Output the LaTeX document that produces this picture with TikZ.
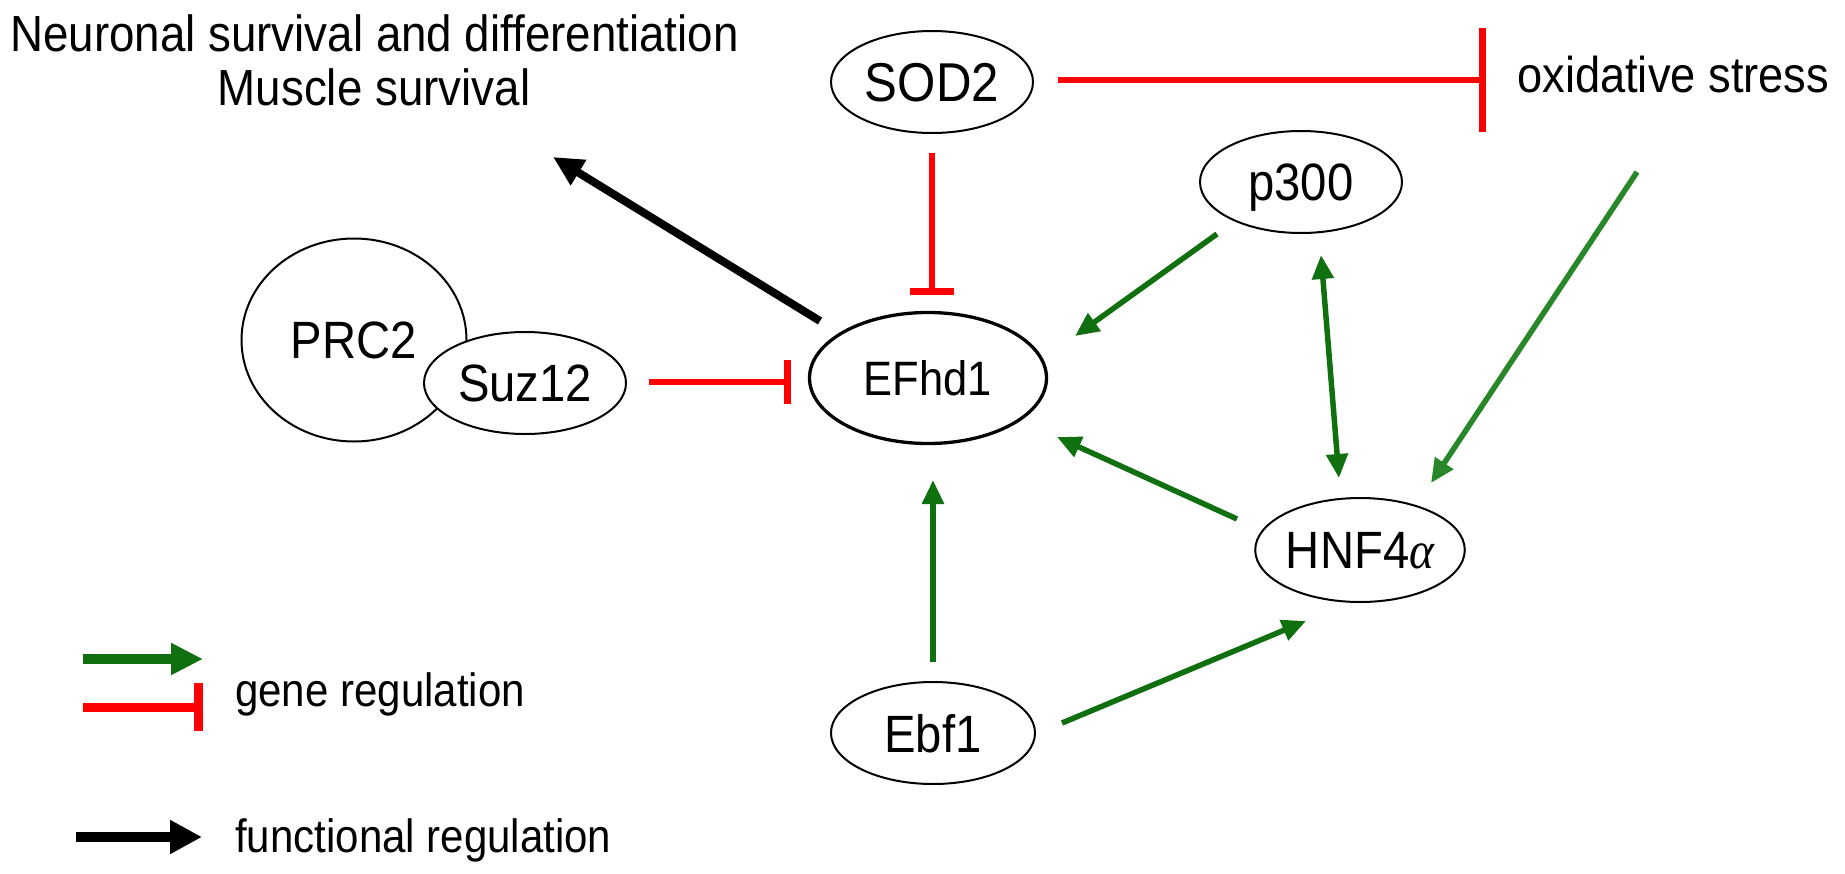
\documentclass[tikz,border=0pt]{standalone}
\usepackage{fontspec}
\setmainfont{Liberation Sans}[FakeStretch=0.9]
\newfontfamily\grk{Liberation Serif}[FakeStretch=0.9]
\usetikzlibrary{shapes.geometric,arrows.meta}
\definecolor{dgreen}{RGB}{16,112,16}
\definecolor{lgreen}{RGB}{40,135,40}
\definecolor{ired}{RGB}{255,0,0}
\begin{document}
\begin{tikzpicture}[x=1pt,y=-1pt,
  ent/.style={ellipse, draw, line width=2pt, minimum width=202pt, minimum height=102pt,
    inner sep=0pt, fill=white, text depth=0pt, font=\fontsize{52.5}{60}\selectfont},
  act/.style={dgreen, line width=5.5pt, -{Triangle[length=24pt,width=21pt]}},
  inh/.style={ired, line width=6pt, -{Bar[width=44pt,line width=7pt]}},
  fun/.style={black, line width=8pt, -{Triangle[length=30pt,width=28pt]}},
  lbl/.style={inner sep=0pt, anchor=base},
]
\useasboundingbox (0,0) rectangle (1845,873);

% texts
\node[lbl, font=\fontsize{50.8}{60}\selectfont] (t1) at (374.5,51) {Neuronal survival and differentiation};
\node[lbl, font=\fontsize{50.8}{60}\selectfont] (t2) at (374,105) {Muscle survival};
\node[lbl, anchor=base west, font=\fontsize{50.3}{60}\selectfont] (ox) at (1517,92) {oxidative stress};

% entities
\node[ent, minimum width=225pt, minimum height=203pt] (prc2) at (354,340) {PRC2};
\node[ent] (suz12) at (525,383) {Suz12};
\node[ent, font=\fontsize{54.7}{60}\selectfont] (sod2) at (932,82) {SOD2};
\node[ent] (p300) at (1301,182) {p300};
\node[ent, line width=3.3pt, minimum width=237pt, minimum height=131pt, font=\fontsize{48.3}{60}\selectfont] (efhd1) at (928,378) {EFhd1};
\node[ent, minimum width=204pt, minimum height=104pt] (hnf) at (1360,550) {HNF4{\grk\itshape α}};
\node[ent, minimum width=204pt] (ebf1) at (933,733) {Ebf1};

% connector end points
\coordinate (bS) at (820,321);   \coordinate (bE) at (553,157);
\coordinate (sdS) at (932,153);  \coordinate (sdE) at (932,295);
\coordinate (soS) at (1058,80);  \coordinate (soE) at (1486,80);
\coordinate (suS) at (649,382);  \coordinate (suE) at (791,382);
\coordinate (peS) at (1217,234); \coordinate (peE) at (1075,336);
\coordinate (phS) at (1321,255); \coordinate (phE) at (1339,478);
\coordinate (ohS) at (1637,172); \coordinate (ohE) at (1431,483);
\coordinate (heS) at (1237,519); \coordinate (heE) at (1057,437);
\coordinate (eeS) at (933,662);  \coordinate (eeE) at (933,480);
\coordinate (ehS) at (1062,723); \coordinate (ehE) at (1306,621);

% connectors
\draw[fun] (bS) -- (bE);
\draw[inh] (sdS) -- (sdE);
\draw[inh, -{Bar[width=104pt,line width=7pt]}] (soS) -- (soE);
\draw[inh] (suS) -- (suE);
\draw[act] (peS) -- (peE);
\draw[act, {Triangle[length=24pt,width=21pt]}-{Triangle[length=24pt,width=21pt]}] (phS) -- (phE);
\draw[act, lgreen] (ohS) -- (ohE);
\draw[act] (heS) -- (heE);
\draw[act] (eeS) -- (eeE);
\draw[act] (ehS) -- (ehE);

% legend
\coordinate (lg1) at (83,659);  \coordinate (lg2) at (203,659);
\coordinate (lr1) at (83,707);  \coordinate (lr2) at (203,707);
\coordinate (lb1) at (76,837);  \coordinate (lb2) at (202,837);
\draw[dgreen, line width=10pt, -{Triangle[length=32pt,width=30pt]}] (lg1) -- (lg2);
\draw[ired, line width=9pt, -{Bar[width=48pt,line width=9pt]}] (lr1) -- (lr2);
\draw[black, line width=10pt, -{Triangle[length=32pt,width=32pt]}] (lb1) -- (lb2);
\node[lbl, anchor=base west, font=\fontsize{46.7}{60}\selectfont] (gr) at (235,706) {gene regulation};
\node[lbl, anchor=base west, font=\fontsize{46.7}{60}\selectfont] (fr) at (235,852) {functional regulation};
\end{tikzpicture}
\end{document}
